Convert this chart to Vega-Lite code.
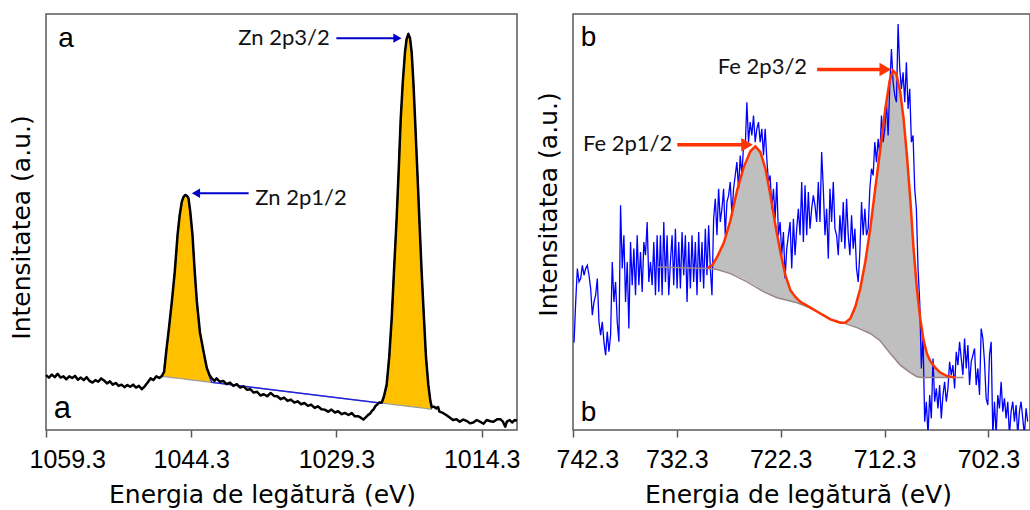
{
  "$schema": "https://vega.github.io/schema/vega-lite/v6.json",
  "padding": {"left": 8, "top": 13, "right": 0, "bottom": 0},
  "spacing": 56,
  "bounds": "flush",
  "config": {
    "font": "Liberation Sans",
    "view": {"stroke": "#595959", "strokeWidth": 1.5},
    "axis": {
      "grid": false, "domain": false,
      "labelFont": "Liberation Sans", "labelFontSize": 25, "labelColor": "#000",
      "titleFont": "DejaVu Sans", "titleFontSize": 25, "titleFontWeight": "normal", "titleColor": "#000",
      "tickColor": "#595959", "tickWidth": 1.5, "tickSize": 7, "labelPadding": 10,
      "labelOverlap": false, "labelBound": false, "labelFlush": true, "labelFlushOffset": 17
    }
  },
  "hconcat": [
    {
      "width": 471, "height": 416,
      "encoding": {
        "x": {"field": "E", "type": "quantitative",
              "scale": {"domain": [1059.3, 1010.65], "nice": false, "zero": false},
              "axis": {"values": [1059.3, 1044.3, 1029.3, 1014.3], "format": ".1f", "title": "Energia de legătură (eV)", "titlePadding": 10, "titleX": 216}},
        "y": {"field": "I", "type": "quantitative",
              "scale": {"domain": [0, 100], "nice": false, "zero": false},
              "axis": {"title": "Intensitatea (a.u.)", "labels": false, "ticks": false, "titlePadding": 12, "titleY": 213}}
      },
      "layer": [
        {
          "data": {"values": [
            {"E": 1047.33, "I": 12.9, "I2": 12.9}, {"E": 1047.1, "I": 14.0, "I2": 12.84}, {"E": 1046.88, "I": 18.9, "I2": 12.78},
            {"E": 1046.6, "I": 24.5, "I2": 12.7}, {"E": 1046.3, "I": 30.9, "I2": 12.61}, {"E": 1046.0, "I": 38.0, "I2": 12.53},
            {"E": 1045.71, "I": 46.9, "I2": 12.44}, {"E": 1045.5, "I": 51.5, "I2": 12.38}, {"E": 1045.27, "I": 54.9, "I2": 12.32},
            {"E": 1045.1, "I": 56.0, "I2": 12.27}, {"E": 1044.92, "I": 56.5, "I2": 12.22}, {"E": 1044.75, "I": 56.3, "I2": 12.17},
            {"E": 1044.58, "I": 55.7, "I2": 12.12}, {"E": 1044.4, "I": 52.5, "I2": 12.07}, {"E": 1044.17, "I": 46.9, "I2": 12.01},
            {"E": 1043.95, "I": 38.5, "I2": 11.95}, {"E": 1043.72, "I": 30.9, "I2": 11.88}, {"E": 1043.4, "I": 23.5, "I2": 11.79},
            {"E": 1043.03, "I": 18.9, "I2": 11.68}, {"E": 1042.69, "I": 14.9, "I2": 11.59}, {"E": 1042.4, "I": 12.6, "I2": 11.51},
            {"E": 1042.17, "I": 11.44, "I2": 11.44},
            {"E": 1024.62, "I": 6.46, "I2": 6.46}, {"E": 1024.4, "I": 8.0, "I2": 6.4}, {"E": 1024.11, "I": 10.9, "I2": 6.32},
            {"E": 1023.85, "I": 17.5, "I2": 6.25}, {"E": 1023.59, "I": 26.9, "I2": 6.17}, {"E": 1023.35, "I": 38.5, "I2": 6.1},
            {"E": 1023.08, "I": 50.9, "I2": 6.03}, {"E": 1022.86, "I": 63.0, "I2": 5.96}, {"E": 1022.66, "I": 74.8, "I2": 5.91},
            {"E": 1022.45, "I": 83.5, "I2": 5.85}, {"E": 1022.22, "I": 90.8, "I2": 5.78}, {"E": 1022.05, "I": 94.0, "I2": 5.73},
            {"E": 1021.87, "I": 95.2, "I2": 5.68}, {"E": 1021.7, "I": 94.2, "I2": 5.64}, {"E": 1021.53, "I": 90.8, "I2": 5.59},
            {"E": 1021.35, "I": 83.5, "I2": 5.54}, {"E": 1021.18, "I": 74.8, "I2": 5.49}, {"E": 1020.95, "I": 62.5, "I2": 5.42},
            {"E": 1020.74, "I": 50.9, "I2": 5.36}, {"E": 1020.5, "I": 38.0, "I2": 5.29}, {"E": 1020.26, "I": 26.9, "I2": 5.23},
            {"E": 1020.05, "I": 17.5, "I2": 5.17}, {"E": 1019.81, "I": 10.9, "I2": 5.1}, {"E": 1019.6, "I": 6.8, "I2": 5.04},
            {"E": 1019.46, "I": 5.0, "I2": 5.0}
          ]},
          "layer": [
            {"mark": {"type": "area", "color": "#FFC000", "opacity": 1}, "encoding": {"y2": {"field": "I2"}}},
            {"mark": {"type": "line", "color": "#9a9a9a", "strokeWidth": 1.2}, "encoding": {"y": {"field": "I2", "type": "quantitative"}}},
            {"mark": {"type": "line", "color": "#2020E0", "strokeWidth": 1.4}, "encoding": {}}
          ]
        },
        {
          "data": {"values": [
            {"E": 1059.3, "I": 13.2}, {"E": 1059.0, "I": 12.6}, {"E": 1058.7, "I": 13.3}, {"E": 1058.4, "I": 12.7},
            {"E": 1058.1, "I": 13.5}, {"E": 1057.8, "I": 12.6}, {"E": 1057.5, "I": 12.9}, {"E": 1057.2, "I": 12.2},
            {"E": 1056.9, "I": 12.9}, {"E": 1056.6, "I": 12.5}, {"E": 1056.3, "I": 13.0}, {"E": 1056.0, "I": 12.1},
            {"E": 1055.7, "I": 12.6}, {"E": 1055.4, "I": 12.0}, {"E": 1055.1, "I": 12.7}, {"E": 1054.8, "I": 11.8},
            {"E": 1054.5, "I": 11.4}, {"E": 1054.2, "I": 12.0}, {"E": 1053.9, "I": 11.6}, {"E": 1053.6, "I": 12.4},
            {"E": 1053.3, "I": 11.9}, {"E": 1053.0, "I": 11.2}, {"E": 1052.7, "I": 11.7}, {"E": 1052.4, "I": 10.9},
            {"E": 1052.1, "I": 11.3}, {"E": 1051.8, "I": 10.6}, {"E": 1051.5, "I": 10.9}, {"E": 1051.2, "I": 10.3},
            {"E": 1050.9, "I": 10.8}, {"E": 1050.6, "I": 10.4}, {"E": 1050.3, "I": 10.9}, {"E": 1050.0, "I": 10.2},
            {"E": 1049.7, "I": 10.6}, {"E": 1049.4, "I": 9.8}, {"E": 1049.1, "I": 10.5}, {"E": 1048.8, "I": 11.4},
            {"E": 1048.5, "I": 12.4}, {"E": 1048.2, "I": 12.0}, {"E": 1047.9, "I": 12.9}, {"E": 1047.6, "I": 12.5},
            {"E": 1047.33, "I": 13.0}, {"E": 1047.1, "I": 14.0}, {"E": 1046.88, "I": 18.9}, {"E": 1046.6, "I": 24.5},
            {"E": 1046.3, "I": 30.9}, {"E": 1046.0, "I": 38.0}, {"E": 1045.71, "I": 46.9}, {"E": 1045.5, "I": 51.5},
            {"E": 1045.27, "I": 54.9}, {"E": 1045.1, "I": 56.0}, {"E": 1044.92, "I": 56.5}, {"E": 1044.75, "I": 56.3},
            {"E": 1044.58, "I": 55.7}, {"E": 1044.4, "I": 52.5}, {"E": 1044.17, "I": 46.9}, {"E": 1043.95, "I": 38.5},
            {"E": 1043.72, "I": 30.9}, {"E": 1043.4, "I": 23.5}, {"E": 1043.03, "I": 18.9}, {"E": 1042.69, "I": 14.9},
            {"E": 1042.4, "I": 13.2}, {"E": 1042.17, "I": 12.4}, {"E": 1041.9, "I": 11.8}, {"E": 1041.68, "I": 12.4},
            {"E": 1041.35, "I": 11.6}, {"E": 1040.99, "I": 11.8}, {"E": 1040.65, "I": 11.0}, {"E": 1040.29, "I": 11.4},
            {"E": 1039.95, "I": 10.6}, {"E": 1039.59, "I": 11.0}, {"E": 1039.25, "I": 10.2}, {"E": 1038.89, "I": 10.5},
            {"E": 1038.55, "I": 9.7}, {"E": 1038.2, "I": 9.8}, {"E": 1037.85, "I": 9.0}, {"E": 1037.5, "I": 9.2},
            {"E": 1037.15, "I": 8.3}, {"E": 1036.8, "I": 8.6}, {"E": 1036.45, "I": 8.1}, {"E": 1036.1, "I": 8.9},
            {"E": 1035.75, "I": 8.2}, {"E": 1035.4, "I": 8.1}, {"E": 1035.05, "I": 7.4}, {"E": 1034.71, "I": 7.8},
            {"E": 1034.35, "I": 7.0}, {"E": 1034.01, "I": 7.3}, {"E": 1033.65, "I": 6.6}, {"E": 1033.31, "I": 6.9},
            {"E": 1032.95, "I": 6.2}, {"E": 1032.61, "I": 6.5}, {"E": 1032.25, "I": 5.8}, {"E": 1031.92, "I": 6.1},
            {"E": 1031.55, "I": 5.3}, {"E": 1031.22, "I": 5.7}, {"E": 1030.85, "I": 5.0}, {"E": 1030.52, "I": 4.9},
            {"E": 1030.15, "I": 4.4}, {"E": 1029.82, "I": 4.9}, {"E": 1029.45, "I": 4.2}, {"E": 1029.13, "I": 4.5},
            {"E": 1028.75, "I": 3.8}, {"E": 1028.43, "I": 4.1}, {"E": 1028.05, "I": 3.6}, {"E": 1027.73, "I": 4.1},
            {"E": 1027.4, "I": 3.3}, {"E": 1027.03, "I": 3.3}, {"E": 1026.75, "I": 2.9}, {"E": 1026.51, "I": 2.5},
            {"E": 1026.2, "I": 3.2}, {"E": 1025.99, "I": 3.7}, {"E": 1025.8, "I": 4.0}, {"E": 1025.64, "I": 4.6},
            {"E": 1025.45, "I": 5.0}, {"E": 1025.29, "I": 5.7}, {"E": 1025.1, "I": 6.1}, {"E": 1024.9, "I": 6.6},
            {"E": 1024.62, "I": 6.6}, {"E": 1024.4, "I": 8.0}, {"E": 1024.11, "I": 10.9}, {"E": 1023.85, "I": 17.5},
            {"E": 1023.59, "I": 26.9}, {"E": 1023.35, "I": 38.5}, {"E": 1023.08, "I": 50.9}, {"E": 1022.86, "I": 63.0},
            {"E": 1022.66, "I": 74.8}, {"E": 1022.45, "I": 83.5}, {"E": 1022.22, "I": 90.8}, {"E": 1022.05, "I": 94.0},
            {"E": 1021.87, "I": 95.2}, {"E": 1021.7, "I": 94.2}, {"E": 1021.53, "I": 90.8}, {"E": 1021.35, "I": 83.5},
            {"E": 1021.18, "I": 74.8}, {"E": 1020.95, "I": 62.5}, {"E": 1020.74, "I": 50.9}, {"E": 1020.5, "I": 38.0},
            {"E": 1020.26, "I": 26.9}, {"E": 1020.05, "I": 17.5}, {"E": 1019.81, "I": 10.9}, {"E": 1019.6, "I": 7.0},
            {"E": 1019.46, "I": 5.6}, {"E": 1019.2, "I": 5.6}, {"E": 1019.01, "I": 5.2}, {"E": 1018.8, "I": 5.5},
            {"E": 1018.66, "I": 4.4}, {"E": 1018.3, "I": 4.1}, {"E": 1017.96, "I": 3.6}, {"E": 1017.6, "I": 3.0},
            {"E": 1017.26, "I": 2.4}, {"E": 1016.9, "I": 2.6}, {"E": 1016.57, "I": 2.0}, {"E": 1016.2, "I": 2.5},
            {"E": 1015.87, "I": 2.2}, {"E": 1015.5, "I": 1.6}, {"E": 1015.17, "I": 1.8}, {"E": 1014.8, "I": 2.4},
            {"E": 1014.48, "I": 2.0}, {"E": 1014.1, "I": 1.5}, {"E": 1013.78, "I": 2.4}, {"E": 1013.4, "I": 2.1},
            {"E": 1013.08, "I": 2.0}, {"E": 1012.7, "I": 2.6}, {"E": 1012.38, "I": 2.6}, {"E": 1012.1, "I": 2.0},
            {"E": 1011.86, "I": 0.8}, {"E": 1011.7, "I": 2.0}, {"E": 1011.4, "I": 2.4}, {"E": 1011.16, "I": 1.8},
            {"E": 1010.9, "I": 2.4}, {"E": 1010.65, "I": 2.2}
          ]},
          "mark": {"type": "line", "color": "#000000", "strokeWidth": 2.5, "strokeJoin": "round"},
          "encoding": {}
        },
        {
          "data": {"values": [{"E": 1029.31, "E2": 1023.0, "I": 94.2}, {"E": 1038.37, "E2": 1043.81, "I": 56.9}]},
          "mark": {"type": "rule", "color": "#0000CC", "strokeWidth": 2},
          "encoding": {"x2": {"field": "E2"}}
        },
        {
          "data": {"values": [{"E": 1023.0, "I": 94.2}]},
          "mark": {"type": "point", "shape": "triangle-right", "filled": true, "color": "#0000CC", "size": 90, "opacity": 1},
          "encoding": {}
        },
        {
          "data": {"values": [{"E": 1043.81, "I": 56.9}]},
          "mark": {"type": "point", "shape": "triangle-left", "filled": true, "color": "#0000CC", "size": 90, "opacity": 1},
          "encoding": {}
        },
        {
          "data": {"values": [{"E": 1029.99, "I": 94.2, "t": "Zn 2p3/2"}]},
          "mark": {"type": "text", "align": "right", "baseline": "middle", "font": "Lato", "fontSize": 22, "color": "#111"},
          "encoding": {"text": {"field": "t"}}
        },
        {
          "data": {"values": [{"E": 1037.68, "I": 55.7, "t": "Zn 2p1/2"}]},
          "mark": {"type": "text", "align": "left", "baseline": "middle", "font": "Lato", "fontSize": 22, "color": "#111"},
          "encoding": {"text": {"field": "t"}}
        },
        {
          "data": {"values": [{"E": 1058.03, "I": 92.0, "t": "a"}]},
          "mark": {"type": "text", "align": "left", "baseline": "alphabetic", "fontSize": 28, "color": "#000"},
          "encoding": {"text": {"field": "t"}}
        },
        {
          "data": {"values": [{"E": 1058.5, "I": 2.95, "t": "a"}]},
          "mark": {"type": "text", "align": "left", "baseline": "alphabetic", "fontSize": 31, "color": "#000"},
          "encoding": {"text": {"field": "t"}}
        }
      ]
    },
    {
      "width": 457, "height": 416,
      "encoding": {
        "x": {"field": "E", "type": "quantitative",
              "scale": {"domain": [742.3, 698.3], "nice": false, "zero": false},
              "axis": {"values": [742.3, 732.3, 722.3, 712.3, 702.3], "format": ".1f", "title": "Energia de legătură (eV)", "titlePadding": 10, "titleX": 225}},
        "y": {"field": "I", "type": "quantitative",
              "scale": {"domain": [0, 100], "nice": false, "zero": false},
              "axis": {"title": "Intensitatea (a.u.)", "labels": false, "ticks": false, "titlePadding": 12, "titleY": 190}}
      },
      "layer": [
        {
          "data": {"values": [
            {"E": 734.19, "I": 39.2, "I2": 39.2}, {"E": 731.94, "I": 39.0, "I2": 39.0}, {"E": 729.38, "I": 39.0, "I2": 38.8},
            {"E": 728.9, "I": 39.6, "I2": 38.7}, {"E": 728.42, "I": 41.6, "I2": 38.6}, {"E": 727.78, "I": 45.0, "I2": 38.2},
            {"E": 727.14, "I": 50.4, "I2": 37.6}, {"E": 726.5, "I": 57.6, "I2": 37.0}, {"E": 725.86, "I": 63.2, "I2": 36.3},
            {"E": 725.22, "I": 67.0, "I2": 35.4}, {"E": 724.74, "I": 68.2, "I2": 34.7}, {"E": 724.26, "I": 66.8, "I2": 33.8},
            {"E": 723.77, "I": 62.8, "I2": 33.0}, {"E": 723.29, "I": 56.4, "I2": 32.4}, {"E": 722.81, "I": 49.2, "I2": 31.9},
            {"E": 722.33, "I": 42.8, "I2": 31.6}, {"E": 721.85, "I": 37.2, "I2": 31.3}, {"E": 721.37, "I": 33.6, "I2": 31.0},
            {"E": 720.89, "I": 32.0, "I2": 30.7}, {"E": 720.41, "I": 30.8, "I2": 30.3}, {"E": 719.45, "I": 29.4, "I2": 29.4},
            {"E": 718.49, "I": 28.0, "I2": 28.0}, {"E": 717.52, "I": 26.6, "I2": 26.6}, {"E": 716.56, "I": 25.8, "I2": 25.8},
            {"E": 716.08, "I": 25.8, "I2": 25.6}, {"E": 715.6, "I": 26.8, "I2": 25.3}, {"E": 715.12, "I": 29.6, "I2": 24.8},
            {"E": 714.64, "I": 34.0, "I2": 24.4}, {"E": 714.16, "I": 40.4, "I2": 23.9}, {"E": 713.68, "I": 48.4, "I2": 23.2},
            {"E": 713.2, "I": 58.0, "I2": 22.5}, {"E": 712.71, "I": 67.6, "I2": 21.4}, {"E": 712.23, "I": 77.2, "I2": 20.0},
            {"E": 711.81, "I": 84.0, "I2": 18.8}, {"E": 711.49, "I": 86.4, "I2": 17.8}, {"E": 711.17, "I": 85.6, "I2": 16.8},
            {"E": 710.79, "I": 81.2, "I2": 15.6}, {"E": 710.47, "I": 74.8, "I2": 14.8}, {"E": 710.15, "I": 66.0, "I2": 14.2},
            {"E": 709.83, "I": 55.6, "I2": 13.8}, {"E": 709.51, "I": 43.6, "I2": 13.3}, {"E": 709.19, "I": 34.0, "I2": 12.8},
            {"E": 708.87, "I": 26.8, "I2": 12.6}, {"E": 708.55, "I": 21.6, "I2": 12.6}, {"E": 708.23, "I": 18.4, "I2": 12.6},
            {"E": 707.91, "I": 16.6, "I2": 12.6}, {"E": 707.43, "I": 15.0, "I2": 12.6}, {"E": 706.95, "I": 13.8, "I2": 12.6},
            {"E": 706.31, "I": 13.0, "I2": 12.6}, {"E": 705.51, "I": 12.6, "I2": 12.6}, {"E": 704.7, "I": 12.6, "I2": 12.6}
          ]},
          "mark": {"type": "area", "color": "#BFBFBF", "opacity": 1},
          "encoding": {"y2": {"field": "I2"}}
        },
        {
          "data": {"values": [
            {"E": 742.2, "I": 21.0}, {"E": 742.04, "I": 30.8}, {"E": 741.88, "I": 38.8}, {"E": 741.72, "I": 35.6}, {"E": 741.56, "I": 36.4},
            {"E": 741.4, "I": 39.6}, {"E": 741.24, "I": 37.2}, {"E": 741.08, "I": 38.8}, {"E": 740.92, "I": 39.6}, {"E": 740.76, "I": 37.2},
            {"E": 740.6, "I": 34.0}, {"E": 740.44, "I": 27.6}, {"E": 740.28, "I": 30.8}, {"E": 740.12, "I": 32.4}, {"E": 739.96, "I": 36.4},
            {"E": 739.8, "I": 26.0}, {"E": 739.64, "I": 22.8}, {"E": 739.48, "I": 26.0}, {"E": 739.32, "I": 21.2}, {"E": 739.16, "I": 18.0},
            {"E": 739.0, "I": 23.6}, {"E": 738.84, "I": 18.8}, {"E": 738.68, "I": 22.8}, {"E": 738.52, "I": 40.4}, {"E": 738.36, "I": 30.8},
            {"E": 738.2, "I": 35.6}, {"E": 738.04, "I": 26.0}, {"E": 737.88, "I": 21.2}, {"E": 737.72, "I": 54.0}, {"E": 737.56, "I": 38.8},
            {"E": 737.4, "I": 46.8}, {"E": 737.24, "I": 30.8}, {"E": 737.08, "I": 40.4}, {"E": 736.92, "I": 24.4}, {"E": 736.76, "I": 45.2},
            {"E": 736.6, "I": 34.8}, {"E": 736.44, "I": 43.6}, {"E": 736.28, "I": 32.4}, {"E": 736.12, "I": 46.8}, {"E": 735.96, "I": 34.8},
            {"E": 735.8, "I": 42.8}, {"E": 735.64, "I": 33.2}, {"E": 735.48, "I": 45.2}, {"E": 735.32, "I": 42.0}, {"E": 735.16, "I": 50.0},
            {"E": 735.0, "I": 35.6}, {"E": 734.84, "I": 40.4}, {"E": 734.68, "I": 34.8}, {"E": 734.52, "I": 45.2}, {"E": 734.36, "I": 32.4},
            {"E": 734.2, "I": 46.8}, {"E": 734.04, "I": 33.2}, {"E": 733.88, "I": 46.8}, {"E": 733.72, "I": 32.4}, {"E": 733.56, "I": 50.0},
            {"E": 733.4, "I": 35.6}, {"E": 733.24, "I": 46.8}, {"E": 733.08, "I": 32.4}, {"E": 732.92, "I": 40.4}, {"E": 732.76, "I": 46.8},
            {"E": 732.6, "I": 34.8}, {"E": 732.44, "I": 48.4}, {"E": 732.28, "I": 34.0}, {"E": 732.12, "I": 45.2}, {"E": 731.96, "I": 34.0},
            {"E": 731.8, "I": 47.6}, {"E": 731.64, "I": 37.2}, {"E": 731.48, "I": 46.8}, {"E": 731.32, "I": 30.8}, {"E": 731.16, "I": 45.2},
            {"E": 731.0, "I": 34.0}, {"E": 730.84, "I": 46.8}, {"E": 730.68, "I": 35.6}, {"E": 730.52, "I": 45.2}, {"E": 730.36, "I": 32.4},
            {"E": 730.2, "I": 47.6}, {"E": 730.04, "I": 35.6}, {"E": 729.88, "I": 45.2}, {"E": 729.72, "I": 34.0}, {"E": 729.56, "I": 48.4},
            {"E": 729.4, "I": 37.2}, {"E": 729.24, "I": 49.2}, {"E": 729.08, "I": 38.8}, {"E": 728.92, "I": 32.4}, {"E": 728.76, "I": 50.8},
            {"E": 728.6, "I": 55.6}, {"E": 728.44, "I": 46.8}, {"E": 728.28, "I": 58.0}, {"E": 728.12, "I": 50.0}, {"E": 727.96, "I": 53.2},
            {"E": 727.8, "I": 58.0}, {"E": 727.64, "I": 46.8}, {"E": 727.48, "I": 54.8}, {"E": 727.32, "I": 56.4}, {"E": 727.16, "I": 59.6},
            {"E": 727.0, "I": 51.6}, {"E": 726.84, "I": 58.0}, {"E": 726.68, "I": 61.2}, {"E": 726.52, "I": 64.4}, {"E": 726.36, "I": 58.0},
            {"E": 726.2, "I": 66.0}, {"E": 726.04, "I": 61.2}, {"E": 725.88, "I": 68.4}, {"E": 725.72, "I": 67.6}, {"E": 725.56, "I": 78.8},
            {"E": 725.4, "I": 69.2}, {"E": 725.24, "I": 74.0}, {"E": 725.08, "I": 70.8}, {"E": 724.92, "I": 75.6}, {"E": 724.76, "I": 69.2},
            {"E": 724.6, "I": 72.4}, {"E": 724.44, "I": 74.0}, {"E": 724.28, "I": 69.2}, {"E": 724.12, "I": 72.4}, {"E": 723.96, "I": 66.0},
            {"E": 723.8, "I": 72.4}, {"E": 723.64, "I": 65.2}, {"E": 723.48, "I": 59.6}, {"E": 723.32, "I": 61.2}, {"E": 723.16, "I": 53.2},
            {"E": 723.0, "I": 58.0}, {"E": 722.84, "I": 50.8}, {"E": 722.68, "I": 59.6}, {"E": 722.52, "I": 46.8}, {"E": 722.36, "I": 50.0},
            {"E": 722.2, "I": 42.0}, {"E": 722.04, "I": 47.6}, {"E": 721.88, "I": 36.4}, {"E": 721.72, "I": 43.6}, {"E": 721.56, "I": 46.8},
            {"E": 721.4, "I": 50.0}, {"E": 721.24, "I": 38.8}, {"E": 721.08, "I": 50.8}, {"E": 720.92, "I": 42.0}, {"E": 720.76, "I": 48.4},
            {"E": 720.6, "I": 53.2}, {"E": 720.44, "I": 46.8}, {"E": 720.28, "I": 59.6}, {"E": 720.12, "I": 45.2}, {"E": 719.96, "I": 58.8},
            {"E": 719.8, "I": 46.8}, {"E": 719.64, "I": 57.2}, {"E": 719.48, "I": 48.4}, {"E": 719.32, "I": 53.2}, {"E": 719.16, "I": 56.4},
            {"E": 719.0, "I": 54.0}, {"E": 718.84, "I": 50.0}, {"E": 718.68, "I": 59.6}, {"E": 718.52, "I": 50.0}, {"E": 718.36, "I": 66.8},
            {"E": 718.2, "I": 58.0}, {"E": 718.04, "I": 46.8}, {"E": 717.88, "I": 53.2}, {"E": 717.72, "I": 41.2}, {"E": 717.56, "I": 58.0},
            {"E": 717.4, "I": 50.0}, {"E": 717.24, "I": 59.6}, {"E": 717.08, "I": 48.4}, {"E": 716.92, "I": 46.8}, {"E": 716.76, "I": 42.0},
            {"E": 716.6, "I": 51.6}, {"E": 716.44, "I": 45.2}, {"E": 716.28, "I": 54.8}, {"E": 716.12, "I": 43.6}, {"E": 715.96, "I": 55.6},
            {"E": 715.8, "I": 46.8}, {"E": 715.64, "I": 42.0}, {"E": 715.48, "I": 51.6}, {"E": 715.32, "I": 43.6}, {"E": 715.16, "I": 48.4},
            {"E": 715.0, "I": 38.8}, {"E": 714.84, "I": 35.6}, {"E": 714.68, "I": 42.8}, {"E": 714.52, "I": 54.8}, {"E": 714.36, "I": 46.8},
            {"E": 714.2, "I": 53.2}, {"E": 714.04, "I": 46.8}, {"E": 713.88, "I": 48.4}, {"E": 713.72, "I": 58.0}, {"E": 713.56, "I": 62.8},
            {"E": 713.4, "I": 61.2}, {"E": 713.24, "I": 69.2}, {"E": 713.08, "I": 64.4}, {"E": 712.92, "I": 70.0}, {"E": 712.76, "I": 66.0},
            {"E": 712.6, "I": 75.6}, {"E": 712.44, "I": 69.2}, {"E": 712.28, "I": 72.4}, {"E": 712.12, "I": 78.8}, {"E": 711.96, "I": 70.8},
            {"E": 711.8, "I": 82.8}, {"E": 711.64, "I": 91.6}, {"E": 711.48, "I": 83.6}, {"E": 711.32, "I": 80.4}, {"E": 711.16, "I": 78.8},
            {"E": 711.0, "I": 97.6}, {"E": 710.84, "I": 86.8}, {"E": 710.68, "I": 82.0}, {"E": 710.52, "I": 86.0}, {"E": 710.36, "I": 78.8},
            {"E": 710.2, "I": 88.4}, {"E": 710.04, "I": 77.2}, {"E": 709.88, "I": 82.0}, {"E": 709.72, "I": 69.2}, {"E": 709.56, "I": 70.8},
            {"E": 709.4, "I": 58.0}, {"E": 709.24, "I": 53.2}, {"E": 709.08, "I": 38.8}, {"E": 708.92, "I": 30.8}, {"E": 708.76, "I": 14.8},
            {"E": 708.6, "I": 22.8}, {"E": 708.44, "I": 2.0}, {"E": 708.28, "I": 6.8}, {"E": 708.12, "I": -1.2}, {"E": 707.96, "I": 8.4},
            {"E": 707.8, "I": 2.8}, {"E": 707.64, "I": 17.2}, {"E": 707.48, "I": 6.8}, {"E": 707.32, "I": 10.0}, {"E": 707.16, "I": 5.2},
            {"E": 707.0, "I": 10.8}, {"E": 706.84, "I": 2.8}, {"E": 706.68, "I": 8.4}, {"E": 706.52, "I": 11.6}, {"E": 706.36, "I": 6.8},
            {"E": 706.2, "I": 10.0}, {"E": 706.04, "I": 16.4}, {"E": 705.88, "I": 13.2}, {"E": 705.72, "I": 15.6}, {"E": 705.56, "I": 10.0},
            {"E": 705.4, "I": 18.8}, {"E": 705.24, "I": 15.6}, {"E": 705.08, "I": 21.2}, {"E": 704.92, "I": 17.2}, {"E": 704.76, "I": 13.2},
            {"E": 704.6, "I": 22.0}, {"E": 704.44, "I": 14.8}, {"E": 704.28, "I": 20.4}, {"E": 704.12, "I": 10.8}, {"E": 703.96, "I": 16.4},
            {"E": 703.8, "I": 18.0}, {"E": 703.64, "I": 19.6}, {"E": 703.48, "I": 10.8}, {"E": 703.32, "I": 14.8}, {"E": 703.16, "I": 8.4},
            {"E": 703.0, "I": 24.4}, {"E": 702.84, "I": 22.0}, {"E": 702.68, "I": 16.4}, {"E": 702.52, "I": 7.6}, {"E": 702.36, "I": 6.0},
            {"E": 702.2, "I": 18.0}, {"E": 702.04, "I": 21.2}, {"E": 701.88, "I": -1.2}, {"E": 701.72, "I": 6.8}, {"E": 701.56, "I": -1.2},
            {"E": 701.4, "I": 8.4}, {"E": 701.24, "I": 5.2}, {"E": 701.08, "I": 11.6}, {"E": 700.92, "I": 4.4}, {"E": 700.76, "I": 7.6},
            {"E": 700.6, "I": 2.8}, {"E": 700.44, "I": 6.8}, {"E": 700.28, "I": -1.2}, {"E": 700.12, "I": 4.4}, {"E": 699.96, "I": 6.8},
            {"E": 699.8, "I": 2.0}, {"E": 699.64, "I": 6.0}, {"E": 699.48, "I": -1.2}, {"E": 699.32, "I": 4.4}, {"E": 699.16, "I": 6.8},
            {"E": 699.0, "I": 2.8}, {"E": 698.84, "I": -1.2}, {"E": 698.68, "I": 5.2}, {"E": 698.52, "I": 2.0}
          ]},
          "mark": {"type": "line", "color": "#0000FF", "strokeWidth": 1.3, "clip": true},
          "encoding": {}
        },
        {
          "data": {"values": [
            {"E": 734.19, "I": 39.2}, {"E": 731.94, "I": 39.0}, {"E": 729.38, "I": 38.8}, {"E": 728.42, "I": 38.6},
            {"E": 727.14, "I": 37.6}, {"E": 725.53, "I": 35.6}, {"E": 723.93, "I": 33.2}, {"E": 722.65, "I": 31.8},
            {"E": 721.69, "I": 31.2}, {"E": 720.73, "I": 30.6}, {"E": 719.12, "I": 29.0}, {"E": 717.52, "I": 26.7},
            {"E": 716.24, "I": 25.7}, {"E": 714.96, "I": 24.6}, {"E": 713.68, "I": 23.2}, {"E": 712.71, "I": 21.4},
            {"E": 711.75, "I": 18.4}, {"E": 710.79, "I": 15.6}, {"E": 709.83, "I": 13.8}, {"E": 709.19, "I": 12.8},
            {"E": 708.71, "I": 12.6}, {"E": 704.7, "I": 12.6}
          ]},
          "mark": {"type": "line", "color": "#9a8585", "strokeWidth": 1.5},
          "encoding": {}
        },
        {
          "data": {"values": [
            {"E": 729.38, "I": 39.0}, {"E": 728.9, "I": 39.6}, {"E": 728.42, "I": 41.6}, {"E": 727.78, "I": 45.0},
            {"E": 727.14, "I": 50.4}, {"E": 726.5, "I": 57.6}, {"E": 725.86, "I": 63.2}, {"E": 725.22, "I": 67.0},
            {"E": 724.74, "I": 68.2}, {"E": 724.26, "I": 66.8}, {"E": 723.77, "I": 62.8}, {"E": 723.29, "I": 56.4},
            {"E": 722.81, "I": 49.2}, {"E": 722.33, "I": 42.8}, {"E": 721.85, "I": 37.2}, {"E": 721.37, "I": 33.6},
            {"E": 720.89, "I": 32.0}, {"E": 720.41, "I": 30.8}, {"E": 719.45, "I": 29.4}, {"E": 718.49, "I": 28.0},
            {"E": 717.52, "I": 26.6}, {"E": 716.56, "I": 25.8}, {"E": 716.08, "I": 25.8}, {"E": 715.6, "I": 26.8},
            {"E": 715.12, "I": 29.6}, {"E": 714.64, "I": 34.0}, {"E": 714.16, "I": 40.4}, {"E": 713.68, "I": 48.4},
            {"E": 713.2, "I": 58.0}, {"E": 712.71, "I": 67.6}, {"E": 712.23, "I": 77.2}, {"E": 711.81, "I": 84.0},
            {"E": 711.49, "I": 86.4}, {"E": 711.17, "I": 85.6}, {"E": 710.79, "I": 81.2}, {"E": 710.47, "I": 74.8},
            {"E": 710.15, "I": 66.0}, {"E": 709.83, "I": 55.6}, {"E": 709.51, "I": 43.6}, {"E": 709.19, "I": 34.0},
            {"E": 708.87, "I": 26.8}, {"E": 708.55, "I": 21.6}, {"E": 708.23, "I": 18.4}, {"E": 707.91, "I": 16.6},
            {"E": 707.43, "I": 15.0}, {"E": 706.95, "I": 13.8}, {"E": 706.31, "I": 13.0}, {"E": 705.51, "I": 12.6}
          ]},
          "mark": {"type": "line", "color": "#FF3300", "strokeWidth": 2.5},
          "encoding": {}
        },
        {
          "data": {"values": [{"E": 718.8, "E2": 712.23, "I": 86.65}, {"E": 732.26, "E2": 725.54, "I": 68.55}]},
          "mark": {"type": "rule", "color": "#FF3300", "strokeWidth": 3.5},
          "encoding": {"x2": {"field": "E2"}}
        },
        {
          "data": {"values": [{"E": 712.23, "I": 86.65}, {"E": 725.54, "I": 68.55}]},
          "mark": {"type": "point", "shape": "triangle-right", "filled": true, "color": "#FF3300", "size": 180, "opacity": 1},
          "encoding": {}
        },
        {
          "data": {"values": [{"E": 719.76, "I": 87.2, "t": "Fe 2p3/2"}, {"E": 732.74, "I": 68.8, "t": "Fe 2p1/2"}]},
          "mark": {"type": "text", "align": "right", "baseline": "middle", "font": "Lato", "fontSize": 22, "color": "#111"},
          "encoding": {"text": {"field": "t"}}
        },
        {
          "data": {"values": [{"E": 741.56, "I": 92.4, "t": "b"}, {"E": 741.56, "I": 2.2, "t": "b"}]},
          "mark": {"type": "text", "align": "left", "baseline": "alphabetic", "fontSize": 28, "color": "#000"},
          "encoding": {"text": {"field": "t"}}
        }
      ]
    }
  ]
}
